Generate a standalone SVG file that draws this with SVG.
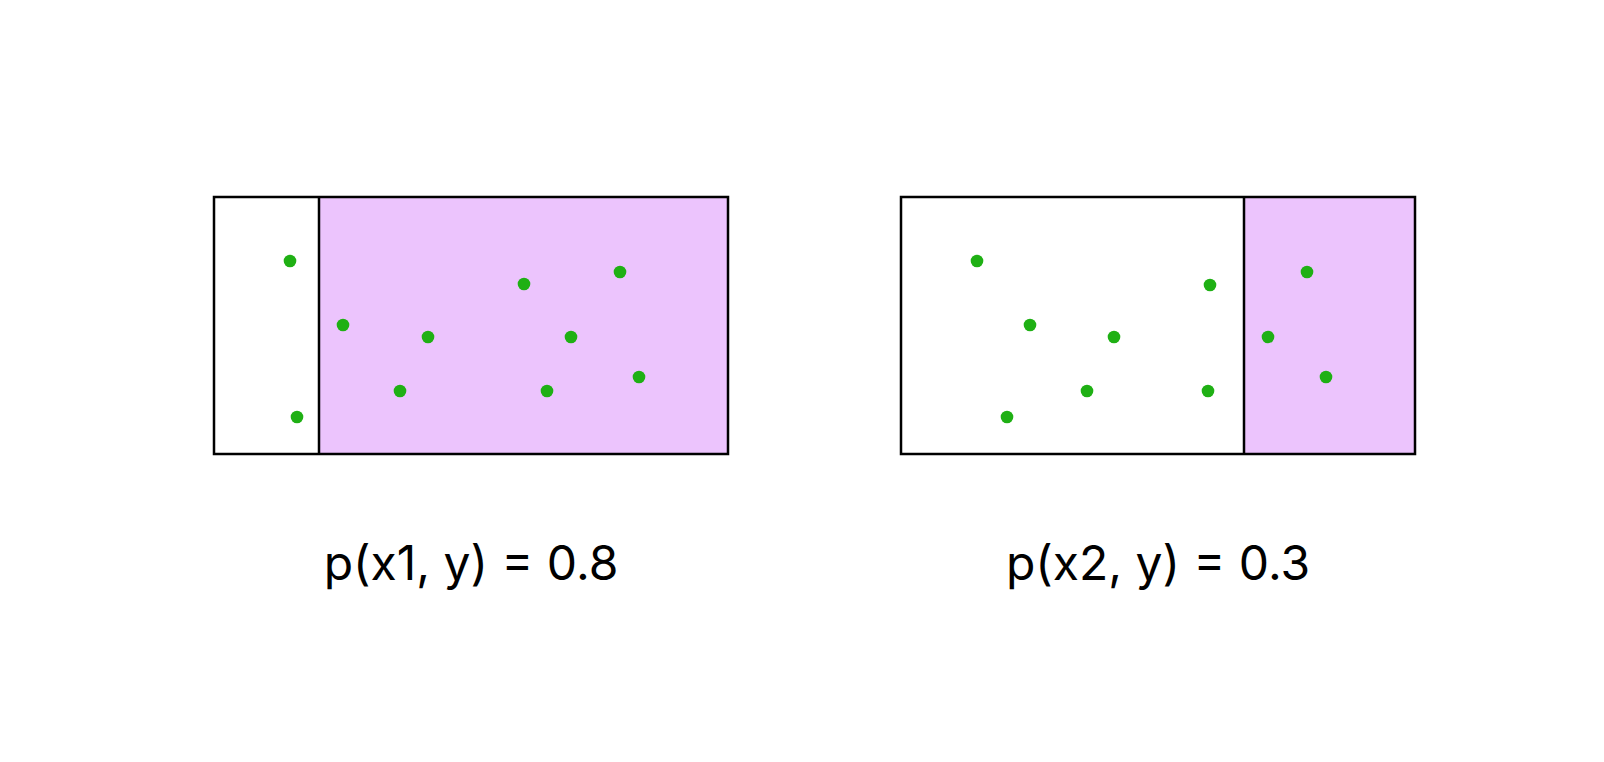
<svg xmlns="http://www.w3.org/2000/svg" width="1604" height="762" viewBox="0 0 1604 762">
<style>
.box{fill:none;stroke:#000;stroke-width:2.5}
.shade{fill:#ecc4fd;stroke:none}
.div{stroke:#000;stroke-width:2.5}
.dot{fill:#1fb014}
.lbl{font-family:Inter,"Liberation Sans",sans-serif;font-size:48px;fill:#000;text-anchor:middle}
</style>
<rect width="1604" height="762" fill="#fff"/>
<g id="panel1">
<rect class="shade" x="319" y="197" width="409" height="257"/>
<rect class="box" x="214" y="197" width="514" height="257"/>
<line class="div" x1="319" y1="197" x2="319" y2="454"/>
<circle class="dot" cx="290" cy="261" r="6.3"/>
<circle class="dot" cx="297" cy="417" r="6.3"/>
<circle class="dot" cx="343" cy="325" r="6.3"/>
<circle class="dot" cx="428" cy="337" r="6.3"/>
<circle class="dot" cx="400" cy="391" r="6.3"/>
<circle class="dot" cx="524" cy="284" r="6.3"/>
<circle class="dot" cx="620" cy="272" r="6.3"/>
<circle class="dot" cx="571" cy="337" r="6.3"/>
<circle class="dot" cx="547" cy="391" r="6.3"/>
<circle class="dot" cx="639" cy="377" r="6.3"/>
<text class="lbl" x="471" y="580">p(x1, y) = 0.8</text>
</g>
<g id="panel2">
<rect class="shade" x="1244" y="197" width="171" height="257"/>
<rect class="box" x="901" y="197" width="514" height="257"/>
<line class="div" x1="1244" y1="197" x2="1244" y2="454"/>
<circle class="dot" cx="977" cy="261" r="6.3"/>
<circle class="dot" cx="1030" cy="325" r="6.3"/>
<circle class="dot" cx="1114" cy="337" r="6.3"/>
<circle class="dot" cx="1087" cy="391" r="6.3"/>
<circle class="dot" cx="1007" cy="417" r="6.3"/>
<circle class="dot" cx="1210" cy="285" r="6.3"/>
<circle class="dot" cx="1208" cy="391" r="6.3"/>
<circle class="dot" cx="1307" cy="272" r="6.3"/>
<circle class="dot" cx="1268" cy="337" r="6.3"/>
<circle class="dot" cx="1326" cy="377" r="6.3"/>
<text class="lbl" x="1158" y="580">p(x2, y) = 0.3</text>
</g>
<g id="connectors"/>
</svg>
